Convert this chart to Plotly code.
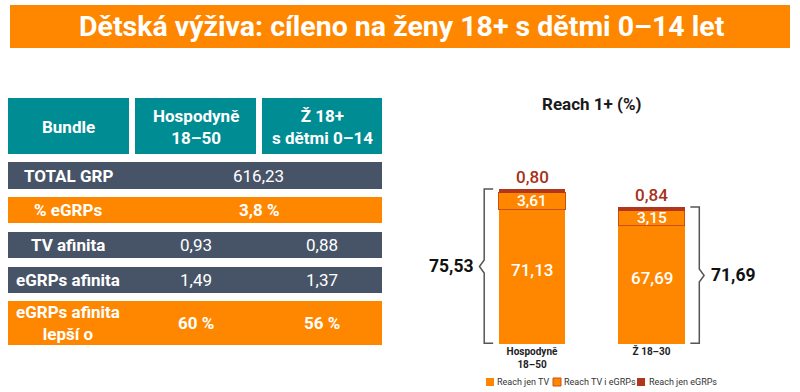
import plotly.graph_objects as go

# ---------------- data ----------------
title_text = "Dětská výživa: cíleno na ženy 18+ s dětmi 0–14 let"

table_header = ["Bundle", "Hospodyně<br>18–50", "Ž 18+<br>s dětmi 0–14"]
row_labels = ["TOTAL GRP", "% eGRPs", "TV afinita", "eGRPs afinita", "eGRPs afinita<br>lepší o"]
row_values = [["616,23"], ["3,8 %"], ["0,93", "0,88"], ["1,49", "1,37"], ["60 %", "56 %"]]
row_kind = ["dark", "orange", "dark", "dark", "orange"]

chart_title = "Reach 1+ (%)"
categories = ["Hospodyně<br>18–50", "Ž 18–30"]
reach_tv = [71.13, 67.69]
reach_tv_egrps = [3.61, 3.15]
reach_egrps = [0.80, 0.84]
totals = [75.53, 71.69]
legend_names = ["Reach jen TV", "Reach TV i eGRPs", "Reach jen eGRPs"]

# ---------------- styles ----------------
W, H = 800, 392
ORANGE = "#FF8700"
TEAL = "#008C93"
DARK = "#475467"
RED = "#B0361C"
LABRED = "#A8301A"
MIDLINE = "#C9501C"
FONT = "Roboto"

def px(x):
    return x / W

def py(y):
    return 1 - y / H

def fmt(v):
    return f"{v:.2f}".replace(".", ",")

def ann(**kw):
    base = dict(showarrow=False, xanchor="center", yanchor="middle")
    base.update(kw)
    return base

fig = go.Figure()

# bars
fig.add_trace(go.Bar(x=categories, y=reach_tv, name=legend_names[0],
                     marker=dict(color=ORANGE, line=dict(width=0)), showlegend=False))
fig.add_trace(go.Bar(x=categories, y=reach_tv_egrps, name=legend_names[1],
                     marker=dict(color=ORANGE, line=dict(width=1, color=MIDLINE)), showlegend=False))
fig.add_trace(go.Bar(x=categories, y=reach_egrps, name=legend_names[2],
                     marker=dict(color=RED, line=dict(width=0)), showlegend=False))

shapes = []
annotations = []

# title bar
shapes.append(dict(type="rect", xref="paper", yref="paper", x0=px(10), x1=px(790),
                   y0=py(48), y1=py(5), fillcolor=ORANGE, line=dict(width=0), layer="below"))
annotations.append(ann(xref="paper", yref="paper", x=px(402), y=py(27), text=f"<b>{title_text}</b>",
                       font=dict(color="white", size=28.5, family=FONT)))

# table
TS = 17
cols = [(8, 129), (135, 256), (262, 382)]
for (x0, x1), txt in zip(cols, table_header):
    shapes.append(dict(type="rect", xref="paper", yref="paper", x0=px(x0), x1=px(x1),
                       y0=py(154), y1=py(98), fillcolor=TEAL, line=dict(width=0), layer="below"))
    annotations.append(ann(xref="paper", yref="paper", x=px((x0 + x1) / 2), y=py(127),
                           text=f"<b>{txt}</b>", font=dict(color="white", size=TS, family=FONT)))

row_spans = [(162, 189), (197, 223), (232, 258), (267, 293), (301, 345)]
for (y0, y1), lab, vals, kind in zip(row_spans, row_labels, row_values, row_kind):
    color = DARK if kind == "dark" else ORANGE
    shapes.append(dict(type="rect", xref="paper", yref="paper", x0=px(8), x1=px(382),
                       y0=py(y1), y1=py(y0), fillcolor=color, line=dict(width=0), layer="below"))
    yc = py((y0 + y1) / 2)
    annotations.append(ann(xref="paper", yref="paper", x=px(68), y=yc, text=f"<b>{lab}</b>",
                           font=dict(color="white", size=TS, family=FONT)))
    bold = kind == "orange"
    if len(vals) == 1:
        positions = [(cols[1][0] + cols[2][1]) / 2]
    else:
        positions = [(c0 + c1) / 2 for c0, c1 in cols[1:]]
    for xp, v in zip(positions, vals):
        annotations.append(ann(xref="paper", yref="paper", x=px(xp), y=yc,
                               text=f"<b>{v}</b>" if bold else v,
                               font=dict(color="white", size=TS, family=FONT)))

# chart title
annotations.append(ann(xref="paper", yref="paper", x=px(592), y=py(104), text=f"<b>{chart_title}</b>",
                       font=dict(color="#1a1a1a", size=17, family=FONT)))

y_base = 42.4
y_top = 77.44

# bar value labels
for c, a, b, e, t in zip(categories, reach_tv, reach_tv_egrps, reach_egrps, totals):
    annotations.append(ann(xref="x", yref="y", x=c, y=(max(y_base, 0) + a) / 2 + 1.5, text=fmt(a),
                           font=dict(color="white", size=17, family=FONT, weight=500)))
    annotations.append(ann(xref="x", yref="y", x=c, y=a + b / 2, text=fmt(b),
                           font=dict(color="white", size=15.5, family=FONT, weight=500)))
    annotations.append(ann(xref="x", yref="y", x=c, y=t, text=fmt(e), yanchor="bottom", yshift=0,
                           font=dict(color=LABRED, size=17, family=FONT, weight=500)))

# brackets
bcol = "#555555"
for i, (t, side) in enumerate(zip(totals, [-1, 1])):
    xv = i + side * 0.40
    xt = i + side * 0.325
    xp_ = i + side * 0.44
    mid = (y_base + t) / 2
    d = 1.4
    yb = y_base + 0.15
    path = (f"M {xt},{t} L {xv},{t} L {xv},{mid + d} L {xp_},{mid} "
            f"L {xv},{mid - d} L {xv},{yb} L {xt},{yb}")
    shapes.append(dict(type="path", xref="x", yref="y", path=path,
                       line=dict(color=bcol, width=1.5)))
    annotations.append(ann(xref="x", yref="y", x=i + side * 0.68, y=mid, text=f"<b>{fmt(t)}</b>",
                           font=dict(color="#111111", size=17.5, family=FONT)))

# manual legend
leg_items = [(486, 494, ORANGE, None), (553, 561, ORANGE, MIDLINE), (637, 646, RED, None)]
for (sx, tx, fc, lc), name in zip(leg_items, legend_names):
    shapes.append(dict(type="rect", xref="paper", yref="paper", x0=px(sx), x1=px(sx + 8),
                       y0=py(386), y1=py(378), fillcolor=fc,
                       line=dict(width=1 if lc else 0, color=lc or fc)))
    annotations.append(ann(xref="paper", yref="paper", x=px(tx + 1), y=py(382), text=name,
                           xanchor="left", font=dict(color="#333333", size=9, family=FONT)))

fig.update_layout(
    width=W, height=H,
    margin=dict(l=0, r=0, t=0, b=0),
    paper_bgcolor="white", plot_bgcolor="white",
    barmode="stack", bargap=0.44,
    font=dict(family=FONT),
    shapes=shapes, annotations=annotations,
    showlegend=False,
    xaxis=dict(domain=[px(412.5), px(771)], range=[-1, 2], showgrid=False,
               zeroline=False, showline=False, ticks="",
               tickfont=dict(size=10, color="#222222", family=FONT, weight="bold")),
    yaxis=dict(domain=[py(344), py(180)], range=[y_base, y_top], visible=False),
)

fig.write_html("out.html", config={"displayModeBar": False},
               post_script="document.body.style.margin='0';")
